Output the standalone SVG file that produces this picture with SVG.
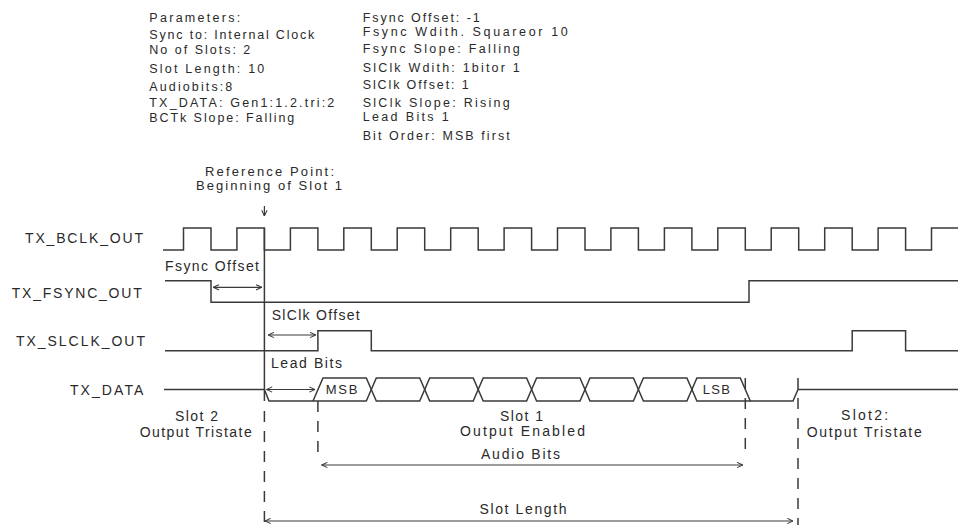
<svg xmlns="http://www.w3.org/2000/svg" width="958" height="527" viewBox="0 0 958 527">
<style>
text{font-family:"Liberation Sans",Arial,sans-serif;font-size:14px;fill:#2a2a2a}
.sm{font-size:13px}
.p{font-size:12.5px}
.mid{text-anchor:middle}
.w{fill:none;stroke:#3a3a3a;stroke-width:1.5}
.dash{fill:none;stroke:#3a3a3a;stroke-width:1.5;stroke-dasharray:11 9}
.arr{fill:none;stroke:#3a3a3a;stroke-width:1.2;marker-start:url(#ah);marker-end:url(#ah)}
.arr1{fill:none;stroke:#3a3a3a;stroke-width:1.2;marker-end:url(#ah)}
</style>
<defs>
<marker id="ah" viewBox="0 0 8 8" refX="7.5" refY="4" markerWidth="7" markerHeight="7" markerUnits="userSpaceOnUse" orient="auto-start-reverse">
<path d="M1,1 L7.5,4 L1,7" fill="none" stroke="#3a3a3a" stroke-width="1.2"/>
</marker>
</defs>
<rect width="958" height="527" fill="#ffffff"/>

<g id="params-left">
<text class="p" x="149.3" y="22" textLength="91" lengthAdjust="spacing">Parameters:</text>
<text class="p" x="149.3" y="39" textLength="165" lengthAdjust="spacing">Sync to: Internal Clock</text>
<text class="p" x="149.3" y="54" textLength="101" lengthAdjust="spacing">No of Slots: 2</text>
<text class="p" x="149.3" y="72.5" textLength="115" lengthAdjust="spacing">Slot Length: 10</text>
<text class="p" x="149.3" y="90.5" textLength="83" lengthAdjust="spacing">Audiobits:8</text>
<text class="p" x="149.3" y="106.5" textLength="185" lengthAdjust="spacing">TX_DATA: Gen1:1.2.tri:2</text>
<text class="p" x="149.3" y="121.5" textLength="145" lengthAdjust="spacing">BCTk Slope: Falling</text>
</g>
<g id="params-right">
<text class="p" x="362.7" y="21.5" textLength="117" lengthAdjust="spacing">Fsync Offset: -1</text>
<text class="p" x="362.7" y="35.5" textLength="205" lengthAdjust="spacing">Fsync Wdith. Squareor 10</text>
<text class="p" x="362.7" y="53" textLength="157" lengthAdjust="spacing">Fsync Slope: Falling</text>
<text class="p" x="362.7" y="71.5" textLength="157" lengthAdjust="spacing">SlClk Wdith: 1bitor 1</text>
<text class="p" x="362.7" y="89" textLength="106" lengthAdjust="spacing">SlClk Offset: 1</text>
<text class="p" x="362.7" y="106.5" textLength="147" lengthAdjust="spacing">SlClk Slope: Rising</text>
<text class="p" x="362.7" y="121" textLength="86" lengthAdjust="spacing">Lead Bits 1</text>
<text class="p" x="362.7" y="140" textLength="147" lengthAdjust="spacing">Bit Order: MSB first</text>
</g>

<g id="ref-point">
<text class="sm" x="205" y="175.5" textLength="129" lengthAdjust="spacing">Reference Point:</text>
<text class="sm" x="196" y="190" textLength="146" lengthAdjust="spacing">Beginning of Slot 1</text>
</g>

<g id="sig-bclk">
<text x="25" y="243.3" textLength="118" lengthAdjust="spacing">TX_BCLK_OUT</text>
<path class="w" d="M163,250 H183.5 V228 H211 V250 H236.9 V228 H264.4 V250 H290.4 V228 H317.9 V250 H343.8 V228 H371.3 V250 H397.2 V228 H424.7 V250 H450.7 V228 H478.2 V250 H504.1 V228 H531.6 V250 H557.5 V228 H585 V250 H610.9 V228 H638.4 V250 H664.4 V228 H691.9 V250 H717.8 V228 H745.3 V250 H771.2 V228 H798.7 V250 H824.7 V228 H852.2 V250 H878.1 V228 H905.6 V250 H931.5 V228 H958"/>
</g>

<g id="sig-fsync">
<text x="11.7" y="298.3" textLength="130" lengthAdjust="spacing">TX_FSYNC_OUT</text>
<text x="165" y="270.5" textLength="94" lengthAdjust="spacing">Fsync Offset</text>
<path class="w" d="M165,280.7 H211 V302.3 H749 V280.7 H958"/>
</g>

<g id="sig-slclk">
<text x="16" y="345.7" textLength="129" lengthAdjust="spacing">TX_SLCLK_OUT</text>
<text x="271.7" y="320" textLength="88" lengthAdjust="spacing">SlClk Offset</text>
<path class="w" d="M165,350.7 H317.9 V330.7 H371.3 V350.7 H852.2 V330.7 H905.6 V350.7 H958"/>
</g>

<g id="sig-data">
<text x="70" y="395" textLength="73.3" lengthAdjust="spacing">TX_DATA</text>
<text x="271" y="368.3" textLength="71" lengthAdjust="spacing">Lead Bits</text>
<path class="w" d="M164,389.5 H264.4 L269,401 H366.3 L376.3,378 H419.7 L429.7,401 H473.2 L483.2,378 H526.6 L536.6,401 H580 L590,378 H633.4 L643.4,401 H686.9 L696.9,378 H740.3 L750.3,401 H793 L798,389.5 H958"/>
<path class="w" d="M313,401 L323,378 H366.3 L376.3,401 H419.7 L429.7,378 H473.2 L483.2,401 H526.6 L536.6,378 H580 L590,401 H633.4 L643.4,378 H686.9 L696.9,401 H750.3"/>
<text class="sm" x="325.7" y="394" textLength="31.6" lengthAdjust="spacing">MSB</text>
<text class="sm" x="702.7" y="394" textLength="27.3" lengthAdjust="spacing">LSB</text>
</g>

<g id="slot2-left">
<text class="mid" x="196.5" y="421" textLength="43" lengthAdjust="spacing">Slot 2</text>
<text class="mid" x="195.7" y="436.7" textLength="112" lengthAdjust="spacing">Output Tristate</text>
</g>
<g id="slot1">
<text class="mid" x="521.5" y="421" textLength="43" lengthAdjust="spacing">Slot 1</text>
<text class="mid" x="522.5" y="436" textLength="125" lengthAdjust="spacing">Output Enabled</text>
<text class="mid" x="520.5" y="458.5" textLength="79" lengthAdjust="spacing">Audio Bits</text>
<text class="mid" x="523" y="514" textLength="87" lengthAdjust="spacing">Slot Length</text>
</g>
<g id="slot2-right">
<text class="mid" x="864.6" y="420" textLength="47" lengthAdjust="spacing">Slot2:</text>
<text class="mid" x="864.2" y="436.7" textLength="115" lengthAdjust="spacing">Output Tristate</text>
</g>

<g id="connectors">
<line class="w" x1="264.4" y1="228" x2="264.4" y2="401"/>
<line class="dash" x1="264.4" y1="411" x2="264.4" y2="523"/>
<line class="dash" x1="317.9" y1="401" x2="317.9" y2="455"/>
<line class="dash" x1="745.3" y1="378" x2="745.3" y2="455"/>
<line class="dash" x1="798" y1="378" x2="798" y2="525"/>
<line class="arr1" x1="264.4" y1="206" x2="264.4" y2="216"/>
<line class="arr" x1="213.3" y1="287.3" x2="261.7" y2="287.3"/>
<line class="arr" x1="268.3" y1="335" x2="315.7" y2="335"/>
<line class="arr" x1="266.5" y1="389.5" x2="315" y2="389.5"/>
<line class="arr" x1="321.7" y1="465" x2="742.7" y2="465"/>
<line class="arr" x1="265" y1="521" x2="793" y2="521"/>
</g>
</svg>
